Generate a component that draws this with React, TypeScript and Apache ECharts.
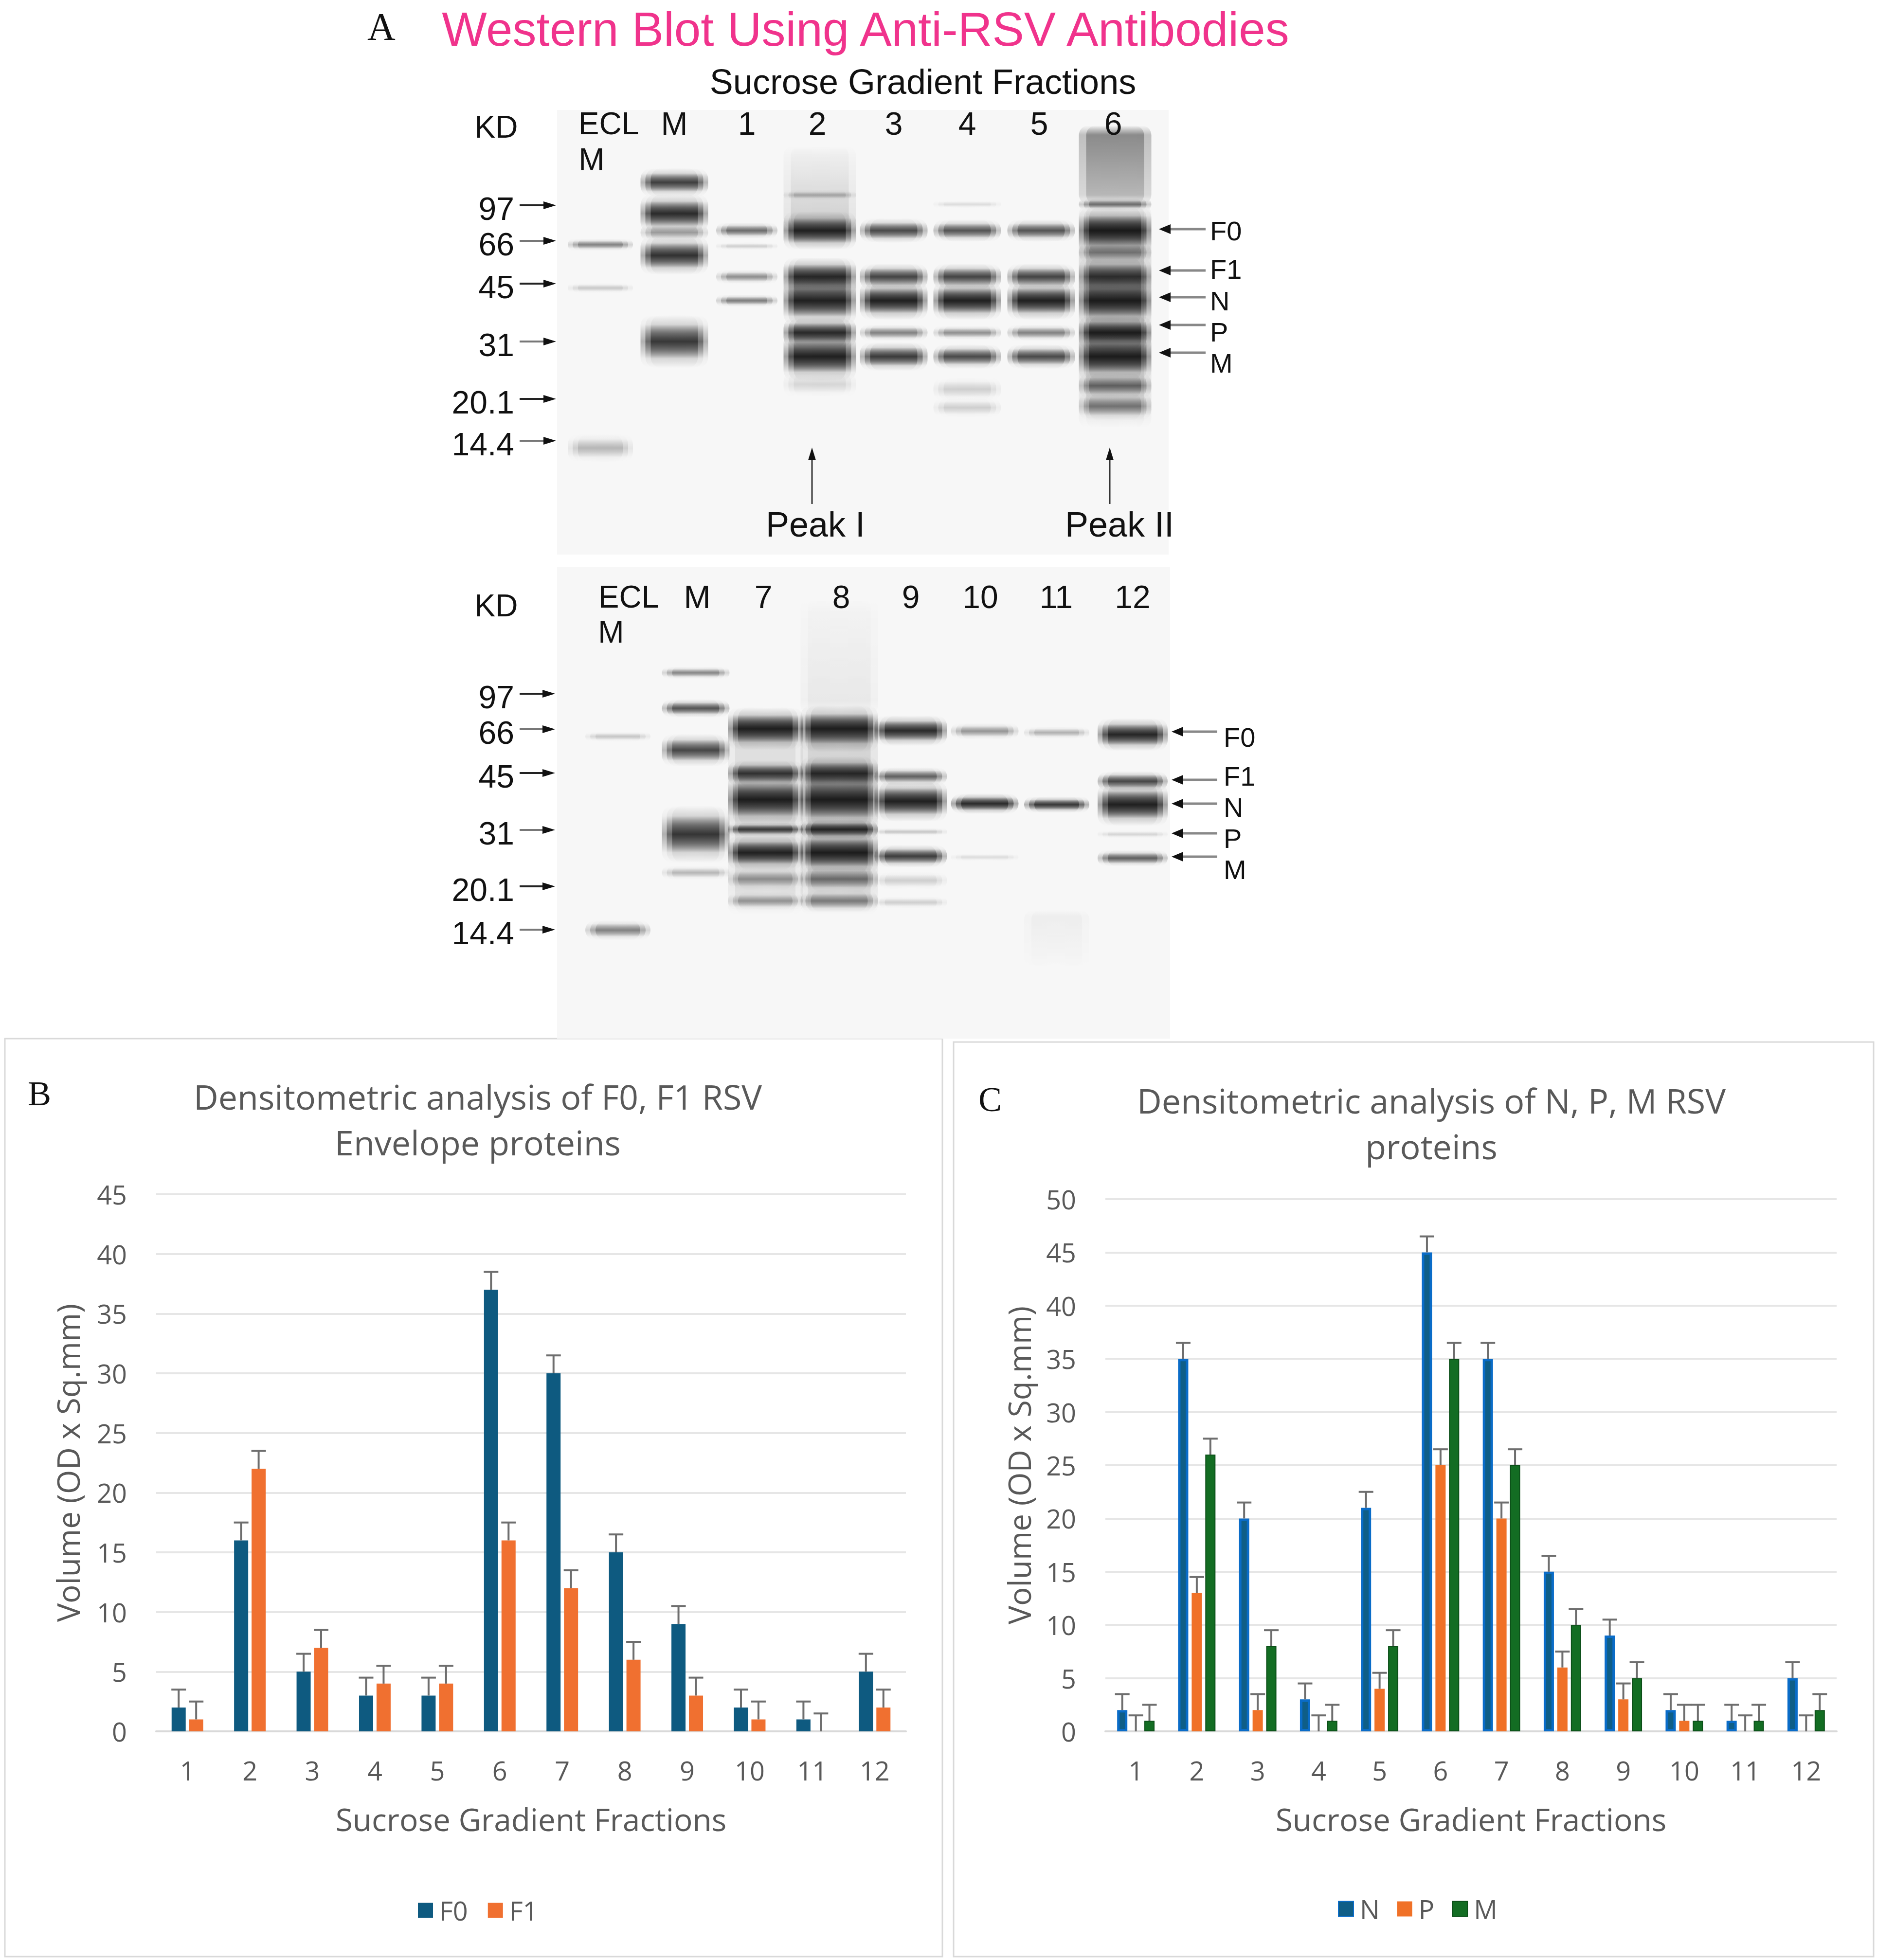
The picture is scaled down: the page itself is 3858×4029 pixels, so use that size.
import React, { useEffect, useRef } from "react";
import * as echarts from "echarts";

// ---------- chart data ----------
const fractions = ["1", "2", "3", "4", "5", "6", "7", "8", "9", "10", "11", "12"];
const f0Values = [2, 16, 5, 3, 3, 37, 30, 15, 9, 2, 1, 5];
const f0Errors = [1.5, 1.5, 1.5, 1.5, 1.5, 1.5, 1.5, 1.5, 1.5, 1.5, 1.5, 1.5];
const f1Values = [1, 22, 7, 4, 4, 16, 12, 6, 3, 1, 0, 2];
const f1Errors = [1.5, 1.5, 1.5, 1.5, 1.5, 1.5, 1.5, 1.5, 1.5, 1.5, 1.5, 1.5];
const nValues = [2, 35, 20, 3, 21, 45, 35, 15, 9, 2, 1, 5];
const nErrors = [1.5, 1.5, 1.5, 1.5, 1.5, 1.5, 1.5, 1.5, 1.5, 1.5, 1.5, 1.5];
const pValues = [0, 13, 2, 0, 4, 25, 20, 6, 3, 1, 0, 0];
const pErrors = [1.5, 1.5, 1.5, 1.5, 1.5, 1.5, 1.5, 1.5, 1.5, 1.5, 1.5, 1.5];
const mValues = [1, 26, 8, 1, 8, 35, 25, 10, 5, 1, 1, 2];
const mErrors = [1.5, 1.5, 1.5, 1.5, 1.5, 1.5, 1.5, 1.5, 1.5, 1.5, 1.5, 1.5];
const yMaxB = 45;
const yMaxC = 50;
const yStep = 5;

// ---------- blot description (panel A) ----------
const mwLabels = ["97", "66", "45", "31", "20.1", "14.4"];
const topLaneLabels = ["ECL", "M", "1", "2", "3", "4", "5", "6"];
const bottomLaneLabels = ["ECL", "M", "7", "8", "9", "10", "11", "12"];
const proteinLabels = ["F0", "F1", "N", "P", "M"];

const topLaneX = [1234, 1386, 1535, 1685, 1837, 1988, 2140, 2292];
const topLaneW = [120, 125, 112, 135, 125, 125, 125, 135];
const topLabelX = [1251, 1386, 1535, 1680, 1837, 1988, 2136, 2288];
const topMwY = [422, 495, 583, 702, 820, 906];
const topProtArrowY = [471, 556, 611, 668, 725];
const topProtTextY = [474, 553, 618, 682, 746];

const bottomLaneX = [1270, 1430, 1573, 1725, 1872, 2024, 2172, 2328];
const bottomLaneW = [120, 125, 140, 145, 135, 125, 120, 130];
const bottomLabelX = [1292, 1433, 1569, 1729, 1872, 2015, 2171, 2328];
const bottomMwY = [1426, 1499, 1589, 1706, 1822, 1911];
const bottomProtArrowY = [1504, 1603, 1652, 1713, 1761];
const bottomProtTextY = [1515, 1595, 1659, 1723, 1787];

// [lane, y, thickness, darkness]
const topBands = [
  [0, 503, 12, 0.4], [0, 592, 10, 0.14], [0, 921, 28, 0.2],
  [1, 375, 28, 0.75], [1, 439, 38, 0.9], [1, 478, 18, 0.3], [1, 525, 38, 0.85], [1, 702, 52, 0.8],
  [2, 474, 16, 0.5], [2, 506, 8, 0.12], [2, 569, 14, 0.35], [2, 618, 12, 0.42],
  [3, 401, 10, 0.2], [3, 474, 38, 1], [3, 569, 38, 0.95], [3, 618, 48, 1], [3, 684, 30, 0.92], [3, 733, 48, 1], [3, 790, 26, 0.1],
  [4, 474, 24, 0.68], [4, 569, 26, 0.72], [4, 618, 38, 1], [4, 684, 16, 0.4], [4, 733, 28, 0.78],
  [5, 420, 8, 0.08], [5, 474, 22, 0.62], [5, 569, 26, 0.72], [5, 618, 38, 1], [5, 684, 14, 0.34], [5, 733, 24, 0.68], [5, 800, 24, 0.12], [5, 838, 20, 0.12],
  [6, 474, 22, 0.62], [6, 569, 26, 0.72], [6, 618, 38, 1], [6, 684, 16, 0.4], [6, 733, 24, 0.68],
  [7, 420, 12, 0.5], [7, 474, 46, 1], [7, 519, 22, 0.35], [7, 569, 38, 0.82], [7, 618, 48, 1], [7, 684, 34, 1], [7, 733, 48, 1], [7, 793, 26, 0.5], [7, 835, 28, 0.42],
];
// [lane, yTop, yBottom, darknessTop, darknessBottom]
const topSmears = [
  [3, 300, 470, 0.04, 0.16],
  [7, 258, 420, 0.5, 0.28],
  [7, 420, 880, 0.22, 0.12],
];
const bottomBands = [
  [0, 1514, 10, 0.15], [0, 1912, 20, 0.4],
  [1, 1383, 12, 0.38], [1, 1456, 18, 0.62], [1, 1542, 32, 0.7], [1, 1715, 56, 0.82], [1, 1794, 14, 0.2],
  [2, 1498, 42, 1], [2, 1590, 26, 0.82], [2, 1644, 50, 1], [2, 1705, 14, 0.76], [2, 1753, 34, 0.96], [2, 1807, 22, 0.3], [2, 1852, 18, 0.3],
  [3, 1498, 46, 1], [3, 1590, 34, 0.9], [3, 1644, 54, 1], [3, 1705, 20, 0.92], [3, 1753, 42, 1], [3, 1807, 26, 0.45], [3, 1852, 22, 0.4],
  [4, 1502, 30, 0.9], [4, 1596, 18, 0.55], [4, 1647, 40, 1], [4, 1710, 8, 0.15], [4, 1760, 22, 0.76], [4, 1810, 18, 0.12], [4, 1855, 12, 0.12],
  [5, 1503, 16, 0.32], [5, 1652, 20, 0.9], [5, 1762, 8, 0.08],
  [6, 1506, 12, 0.22], [6, 1654, 16, 0.8],
  [7, 1510, 32, 0.94], [7, 1606, 20, 0.7], [7, 1654, 42, 1], [7, 1715, 8, 0.1], [7, 1764, 16, 0.56],
];
const bottomSmears = [
  [2, 1470, 1880, 0.1, 0.1],
  [3, 1230, 1470, 0.02, 0.06],
  [3, 1470, 1880, 0.15, 0.12],
  [6, 1870, 1990, 0.04, 0.01],
];

const SANS = '"Open Sans", "Noto Sans", sans-serif';
const ARIAL = '"Liberation Sans", Arial, sans-serif';
const SERIF = '"Liberation Serif", "Times New Roman", serif';
const TXT = "#595959";

function vGrad(a: number) {
  return new echarts.graphic.LinearGradient(0, 0, 0, 1, [
    { offset: 0, color: "rgba(0,0,0,0)" },
    { offset: 0.18, color: `rgba(0,0,0,${a * 0.12})` },
    { offset: 0.34, color: `rgba(0,0,0,${a * 0.6})` },
    { offset: 0.5, color: `rgba(0,0,0,${a})` },
    { offset: 0.66, color: `rgba(0,0,0,${a * 0.6})` },
    { offset: 0.82, color: `rgba(0,0,0,${a * 0.12})` },
    { offset: 1, color: "rgba(0,0,0,0)" },
  ]);
}

function bandElems(lx: number[], lw: number[], bands: number[][], smears: number[][]) {
  const out: any[] = [];
  smears.forEach(([lane, y1, y2, a1, a2]) => {
    [[lw[lane] + 14, 0.45], [lw[lane] - 16, 0.55]].forEach(([w, k]) => {
      out.push({
        type: "rect",
        shape: { x: lx[lane] - w / 2, y: y1, width: w, height: y2 - y1, r: 20 },
        style: {
          fill: new echarts.graphic.LinearGradient(0, 0, 0, 1, [
            { offset: 0, color: "rgba(0,0,0,0)" },
            { offset: 0.12, color: `rgba(0,0,0,${a1 * k})` },
            { offset: 0.88, color: `rgba(0,0,0,${a2 * k})` },
            { offset: 1, color: "rgba(0,0,0,0)" },
          ]),
        },
      });
    });
  });
  bands.forEach(([lane, y, h, a]) => {
    const hh = h * 2.1;
    [[lw[lane] + 14, 0.35], [lw[lane] - 6, 0.5], [lw[lane] - 28, 0.6]].forEach(([w, k]) => {
      out.push({
        type: "rect",
        shape: { x: lx[lane] - w / 2, y: y - hh / 2, width: w, height: hh, r: Math.min(hh / 2, 22) },
        style: { fill: vGrad(a * k) },
      });
    });
  });
  return out;
}

function txt(text: string, x: number, y: number, size: number, opts: any = {}) {
  return {
    type: "text",
    x,
    y,
    style: {
      text,
      fontSize: size,
      fontFamily: opts.family || ARIAL,
      fontWeight: opts.weight || "normal",
      fill: opts.color || "#111111",
      align: opts.align || "center",
      verticalAlign: opts.valign || "middle",
      lineHeight: opts.lineHeight,
    },
  };
}

function arrowRight(x1: number, x2: number, y: number, color: string) {
  return [
    { type: "line", shape: { x1, y1: y, x2: x2 - 20, y2: y }, style: { stroke: color, lineWidth: 4 } },
    { type: "polygon", shape: { points: [[x2, y], [x2 - 26, y - 8], [x2 - 26, y + 8]] }, style: { fill: "#111" } },
  ];
}
function arrowLeft(tip: number, x2: number, y: number, color: string) {
  return [
    { type: "line", shape: { x1: tip + 20, y1: y, x2, y2: y }, style: { stroke: color, lineWidth: 5 } },
    { type: "polygon", shape: { points: [[tip, y], [tip + 24, y - 10], [tip + 24, y + 10]] }, style: { fill: "#111" } },
  ];
}
function arrowUp(x: number, tip: number, y2: number) {
  return [
    { type: "line", shape: { x1: x, y1: tip + 18, x2: x, y2 }, style: { stroke: "#333", lineWidth: 3 } },
    { type: "polygon", shape: { points: [[x, tip], [x - 8, tip + 26], [x + 8, tip + 26]] }, style: { fill: "#111" } },
  ];
}

function buildGraphic() {
  const els: any[] = [];
  // panel borders
  els.push({ type: "rect", shape: { x: 10, y: 2135, width: 1927, height: 1887 }, style: { fill: "none", stroke: "#d9d9d9", lineWidth: 3 } });
  els.push({ type: "rect", shape: { x: 1960, y: 2142, width: 1891, height: 1880 }, style: { fill: "none", stroke: "#d9d9d9", lineWidth: 3 } });
  // gel backgrounds
  els.push({ type: "rect", shape: { x: 1145, y: 226, width: 1257, height: 914 }, style: { fill: "#f7f7f7" } });
  els.push({ type: "rect", shape: { x: 1145, y: 1165, width: 1260, height: 970 }, style: { fill: "#f7f7f7" } });
  els.push(...bandElems(topLaneX, topLaneW, topBands, topSmears));
  els.push(...bandElems(bottomLaneX, bottomLaneW, bottomBands, bottomSmears));

  // panel A title
  els.push(txt("A", 784, 55, 80, { family: SERIF }));
  els.push(txt("Western Blot Using Anti-RSV Antibodies", 1779, 60, 98, { color: "#f0338c" }));
  els.push(txt("Sucrose Gradient Fractions", 1897, 168, 72));

  // top blot labels
  els.push(txt("KD", 1020, 261, 64));
  topLaneLabels.forEach((l, i) => els.push(txt(l, topLabelX[i], 254, i === 0 ? 64 : 66)));
  els.push(txt("M", 1216, 328, 64));
  mwLabels.forEach((l, i) => {
    els.push(txt(l, 1057, topMwY[i] + 7, 66, { align: "right" }));
    els.push(...arrowRight(1068, 1143, topMwY[i], i % 2 === 1 ? "#777" : "#222"));
  });
  proteinLabels.forEach((l, i) => {
    els.push(...arrowLeft(2382, 2478, topProtArrowY[i], "#888"));
    els.push(txt(l, 2487, topProtTextY[i], 56, { align: "left" }));
  });
  els.push(...arrowUp(1669, 920, 1036));
  els.push(...arrowUp(2281, 920, 1036));
  els.push(txt("Peak I", 1676, 1078, 72));
  els.push(txt("Peak II", 2301, 1078, 72));

  // bottom blot labels
  els.push(txt("KD", 1020, 1245, 64));
  bottomLaneLabels.forEach((l, i) => els.push(txt(l, bottomLabelX[i], 1227, i === 0 ? 64 : 66)));
  els.push(txt("M", 1256, 1299, 64));
  mwLabels.forEach((l, i) => {
    els.push(txt(l, 1057, bottomMwY[i] + 7, 66, { align: "right" }));
    els.push(...arrowRight(1068, 1141, bottomMwY[i], i % 2 === 1 ? "#777" : "#222"));
  });
  proteinLabels.forEach((l, i) => {
    els.push(...arrowLeft(2408, 2502, bottomProtArrowY[i], "#888"));
    els.push(txt(l, 2515, bottomProtTextY[i], 56, { align: "left" }));
  });

  // chart panel letters and titles
  els.push(txt("B", 81, 2248, 72, { family: SERIF }));
  els.push(txt("C", 2035, 2260, 72, { family: SERIF }));
  els.push(txt("Densitometric analysis of F0, F1 RSV\nEnvelope proteins", 982, 2254 - 47, 70, { family: SANS, color: TXT, valign: "top", lineHeight: 94 }));
  els.push(txt("Densitometric analysis of N, P, M RSV\nproteins", 2942, 2262 - 47, 70, { family: SANS, color: TXT, valign: "top", lineHeight: 94 }));
  return els;
}

function errorSeries(values: number[], errors: number[], gi: number, offset: number) {
  return {
    type: "custom",
    xAxisIndex: gi,
    yAxisIndex: gi,
    z: 5,
    silent: true,
    data: values.map((v, i) => [i, v, errors[i]]),
    encode: { x: 0, y: 1 },
    renderItem: (_p: any, api: any) => {
      const i = api.value(0);
      const v = api.value(1);
      const e = api.value(2);
      const p0 = api.coord([i, v]);
      const p1 = api.coord([i, v + e]);
      const cx = p0[0] + offset;
      const st = { stroke: "#6e6e6e", lineWidth: 4 };
      return {
        type: "group",
        children: [
          { type: "line", shape: { x1: cx, y1: p0[1], x2: cx, y2: p1[1] }, style: st },
          { type: "line", shape: { x1: cx - 15, y1: p1[1], x2: cx + 15, y2: p1[1] }, style: st },
        ],
      };
    },
  };
}

function axisPair(gi: number, max: number) {
  const x = {
    type: "category",
    gridIndex: gi,
    data: fractions,
    axisLine: { lineStyle: { color: "#d9d9d9", width: 4 } },
    axisTick: { show: false },
    axisLabel: { fontSize: 54, color: TXT, fontFamily: SANS, margin: 53 },
    name: "Sucrose Gradient Fractions",
    nameLocation: "middle",
    nameGap: 148,
    nameTextStyle: { fontSize: 64, color: TXT, fontFamily: SANS },
  };
  const y = {
    type: "value",
    gridIndex: gi,
    min: 0,
    max,
    interval: yStep,
    axisLine: { show: false },
    axisTick: { show: false },
    axisLabel: { fontSize: 54, color: TXT, fontFamily: SANS, margin: 60 },
    splitLine: { lineStyle: { color: "#e6e6e6", width: 4 } },
    name: "Volume (OD x Sq.mm)",
    nameLocation: "middle",
    nameRotate: 90,
    nameGap: gi === 0 ? 150 : 146,
    nameTextStyle: { fontSize: 64, color: TXT, fontFamily: SANS },
  };
  return [x, y];
}

export default function App() {
  const ref = useRef<HTMLDivElement>(null);
  useEffect(() => {
    if (!ref.current) return;
    const chart = echarts.init(ref.current, null, { renderer: "svg" });
    const [xB, yB] = axisPair(0, yMaxB);
    const [xC, yC] = axisPair(1, yMaxC);
    const bwB = 29;
    const bwC = 21;
    const spB = bwB * 1.24;
    const spC = bwC * 1.33;
    const option: any = {
      animation: false,
      backgroundColor: "#ffffff",
      grid: [
        { left: 321, top: 2455, width: 1541, height: 1104 },
        { left: 2272, top: 2465, width: 1503, height: 1094 },
      ],
      xAxis: [xB, xC],
      yAxis: [yB, yC],
      legend: [
        {
          data: ["F0", "F1"],
          left: 854,
          top: 3895,
          itemWidth: 31,
          itemHeight: 31,
          itemGap: 41,
          icon: "rect",
          textStyle: { fontSize: 54, color: TXT, fontFamily: SANS, padding: [0, 0, 0, 8] },
        },
        {
          data: ["N", "P", "M"],
          left: 2745,
          top: 3892,
          itemWidth: 31,
          itemHeight: 31,
          itemGap: 36,
          icon: "rect",
          textStyle: { fontSize: 54, color: TXT, fontFamily: SANS, padding: [0, 0, 0, 8] },
        },
      ],
      series: [
        { name: "F0", type: "bar", xAxisIndex: 0, yAxisIndex: 0, data: f0Values, barWidth: bwB, barGap: "24%", itemStyle: { color: "#0e5a80" } },
        { name: "F1", type: "bar", xAxisIndex: 0, yAxisIndex: 0, data: f1Values, barWidth: bwB, barGap: "24%", itemStyle: { color: "#f07030" } },
        { name: "N", type: "bar", xAxisIndex: 1, yAxisIndex: 1, data: nValues, barWidth: bwC, barGap: "33%", itemStyle: { color: "#0f5e87", borderColor: "#0a6cc8", borderWidth: 5 } },
        { name: "P", type: "bar", xAxisIndex: 1, yAxisIndex: 1, data: pValues, barWidth: bwC, barGap: "33%", itemStyle: { color: "#f07127" } },
        { name: "M", type: "bar", xAxisIndex: 1, yAxisIndex: 1, data: mValues, barWidth: bwC, barGap: "33%", itemStyle: { color: "#136d23", borderColor: "#0b4f18", borderWidth: 2 } },
        errorSeries(f0Values, f0Errors, 0, -spB / 2),
        errorSeries(f1Values, f1Errors, 0, spB / 2),
        errorSeries(nValues, nErrors, 1, -spC),
        errorSeries(pValues, pErrors, 1, 0),
        errorSeries(mValues, mErrors, 1, spC),
      ],
      graphic: { elements: buildGraphic() },
    };
    chart.setOption(option);
    return () => chart.dispose();
  }, []);
  return (
    <div
      ref={ref}
      style={{ position: "absolute", left: 0, top: 0, width: 3858, height: 4029, background: "#fff" }}
    />
  );
}
